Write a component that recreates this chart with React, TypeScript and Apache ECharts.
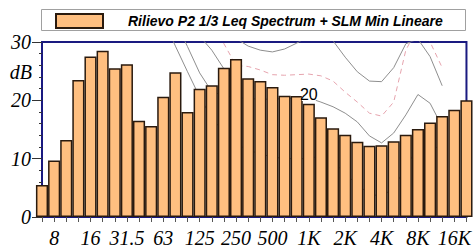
import React, { useEffect, useRef } from "react";
import * as echarts from "echarts";

const bands = ["6.3","8","10","12.5","16","20","25","31.5","40","50","63","80","100","125","160","200","250","315","400","500","630","800","1K","1.25K","1.6K","2K","2.5K","3.15K","4K","5K","6.3K","8K","10K","12.5K","16K","20K"];
const octaveLabels = ["8","16","31.5","63","125","250","500","1K","2K","4K","8K","16K"];

const seriesName = "Rilievo P2 1/3 Leq Spectrum + SLM Min Lineare";
const leqValues = [5.5,9.7,13.2,23.5,27.5,28.5,25.5,26.2,16.5,15.6,20.6,24.8,18,22,22.6,25.6,27.1,23.8,23.3,22.3,20.8,20.75,19.4,17.1,15.2,14.1,12.9,12.2,12.3,13,14.1,15.1,16.2,17.3,18.4,20];

const curve10 = [null,null,null,null,null,null,null,null,null,39,34,29.3,24.9,20.6,17,14.5,12.5,11.5,10.8,10.3,10,10,10,10.5,9.5,7.5,5.5,4,3.5,5,8.5,12,13,11,null,null];
const curve20 = [null,null,null,null,null,null,null,null,null,null,null,33.5,29.2,24.7,21.5,20.8,20.5,20.3,20.2,20.2,20.3,20.4,20.4,19.7,18.9,17.8,16.3,13.9,12.7,14.4,17.5,21,19.5,15.5,null,null];
const curveC = [null,null,null,null,null,null,null,null,null,null,null,null,null,31,28.6,25.4,23,null,null,null,null,null,null,null,null,null,null,null,null,null,null,null,null,null,null,null];
const curve25 = [null,null,null,null,null,null,null,null,null,null,null,null,null,null,34,29.7,26,25.8,25.2,24.4,24.3,24.4,24.5,24.2,23.3,21.4,19.7,17.8,17.3,19.7,28.6,32.5,30,25.6,null,null];
const curve30 = [null,null,null,null,null,null,null,null,null,null,null,null,null,null,null,null,30.6,29.3,28.6,28.3,28.8,29.8,31,31.5,30.2,27.4,24.9,23.3,23.2,25.6,29.7,30.5,27.5,22.5,null,null];
const curveLabel = "20";
const curveLabelBand = "1K";

const NAVY = "#1a1a80";
const GRAY = "#8e8e8e";
const PINK = "#e6a4ae";
const serif = "Liberation Serif";

function lineSeries(data: (number | null)[], dashed: boolean, extra: any = {}) {
  return {
    type: "line",
    data,
    showSymbol: false,
    symbol: "none",
    silent: true,
    connectNulls: false,
    z: 1,
    lineStyle: { color: dashed ? PINK : GRAY, width: 1, type: dashed ? [5, 4] : "solid" },
    ...extra,
  };
}

export default function App() {
  const ref = useRef<HTMLDivElement>(null);
  useEffect(() => {
    if (!ref.current) return;
    const chart = echarts.init(ref.current, null, { renderer: "svg" });
    const option: any = {
      animation: false,
      backgroundColor: "#fff",
      grid: { left: 42, right: 4, top: 42, bottom: 34, show: true, borderColor: NAVY, borderWidth: 2, backgroundColor: "#fff" },
      legend: {
        data: [seriesName],
        left: 55,
        top: 13,
        itemWidth: 47,
        itemHeight: 14,
        padding: 0,
        icon: "rect",
        textStyle: { fontFamily: "Liberation Sans", fontWeight: "bold", fontStyle: "italic", fontSize: 14, color: "#000", padding: [0, 0, 0, 20] },
      },
      graphic: [
        { type: "rect", z: 0, shape: { x: 41.5, y: 9.5, width: 424, height: 21 }, style: { fill: "#fff", stroke: "#a0a0a0", lineWidth: 1 } },
        { type: "text", x: 32, y: 72, style: { text: "dB", font: `italic 20px "${serif}"`, fill: "#000", textAlign: "right", textVerticalAlign: "middle" } },
      ],
      xAxis: {
        type: "category",
        data: bands,
        boundaryGap: false,
        axisLine: { show: true, lineStyle: { color: NAVY, width: 1.5 } },
        axisTick: { show: true, interval: 0, length: 5, lineStyle: { color: "#555" } },
        axisLabel: {
          interval: (i: number, v: string) => octaveLabels.includes(v) && i % 3 === 1,
          fontFamily: serif,
          fontStyle: "italic",
          fontSize: 20,
          color: "#000",
          margin: 11,
        },
        splitLine: { show: false },
      },
      yAxis: {
        type: "value",
        min: 0,
        max: 30,
        interval: 10,
        axisLine: { show: true, lineStyle: { color: NAVY, width: 1.5 } },
        axisTick: { show: true, length: 10, lineStyle: { color: "#333" } },
        minorTick: { show: true, splitNumber: 5, length: 3, lineStyle: { color: "#333" } },
        axisLabel: { fontFamily: serif, fontStyle: "italic", fontSize: 20, color: "#000", margin: 11 },
        splitLine: { show: false },
      },
      series: [
        lineSeries(curve10, false),
        lineSeries(curveC, false),
        lineSeries(curve25, true),
        lineSeries(curve30, false),
        lineSeries(curve20, false, {
          markPoint: {
            silent: true,
            z: 5,
            data: [
              {
                coord: [curveLabelBand, curve20[bands.indexOf(curveLabelBand)]],
                symbol: "rect",
                symbolSize: [14, 14],
                symbolOffset: [0, -4],
                itemStyle: { color: "#fff" },
                label: { show: true, formatter: curveLabel, position: "inside", color: "#000", fontSize: 16, fontFamily: "Liberation Sans" },
              },
            ],
          },
        }),
        {
          name: seriesName,
          type: "bar",
          data: leqValues,
          barCategoryGap: "0%",
          z: 2,
          clip: true,
          itemStyle: { color: "#FFBF80", borderColor: "#2a1a0e", borderWidth: 1.5 },
        },
      ],
    };
    chart.setOption(option);
    return () => chart.dispose();
  }, []);
  return <div ref={ref} style={{ position: "fixed", left: 0, top: 0, width: 474, height: 251 }} />;
}
